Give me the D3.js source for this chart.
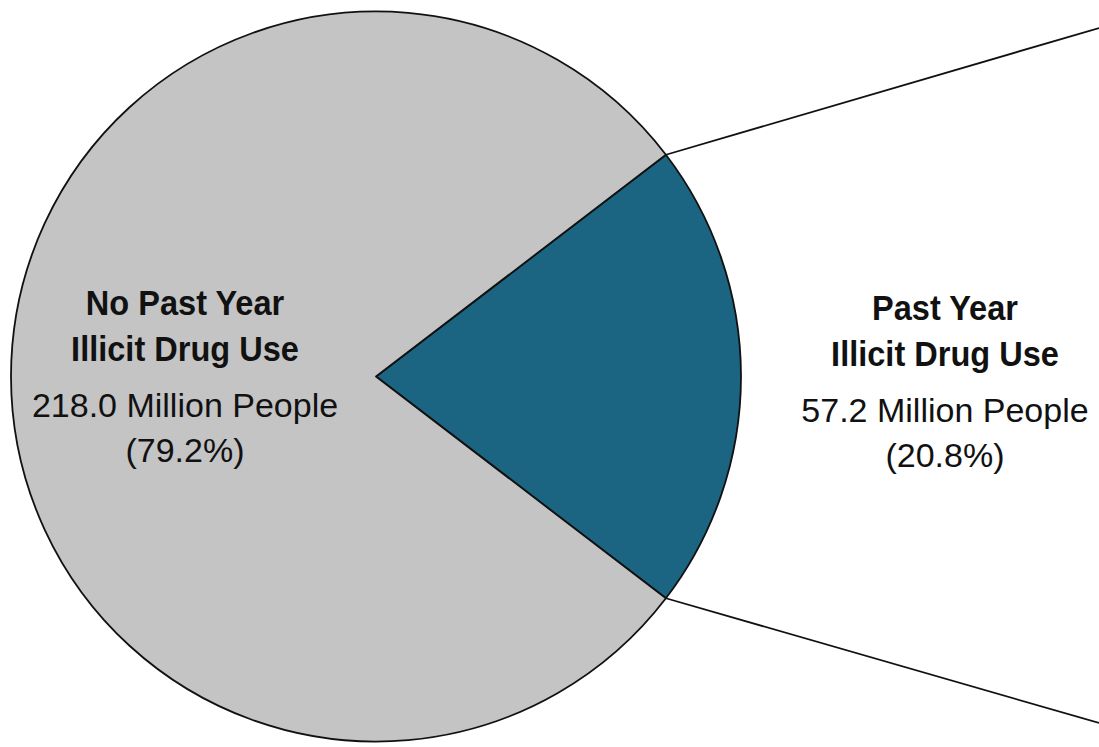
<!DOCTYPE html>
<html>
<head>
<meta charset="utf-8">
<script src="https://cdn.jsdelivr.net/npm/d3@7/dist/d3.min.js"></script>
<style>
  html, body { margin: 0; padding: 0; background: #fff; }
  svg { display: block; }
  .lbl { font-family: "Liberation Sans Narrow", "Arial Narrow", "Liberation Sans", sans-serif; fill: #111; }
</style>
</head>
<body>
<svg id="chart" width="1099" height="747"></svg>
<script>
// Past-year illicit drug use among people aged 12 or older
const categories = ["Past Year Illicit Drug Use", "No Past Year Illicit Drug Use"];
const titleLines = [["Past Year", "Illicit Drug Use"], ["No Past Year", "Illicit Drug Use"]];
const millions = [57.2, 218.0];
const percents = [20.8, 79.2];
const colors = ["#1b6583", "#c4c4c4"];

const W = 1099, H = 747;
const cx = 376, cy = 376.5, R = 365;

const svg = d3.select("#chart");
const g = svg.append("g").attr("transform", `translate(${cx},${cy})`);

const total = d3.sum(millions);
const span = 2 * Math.PI * millions[0] / total;
// The highlighted slice is centred on the right-hand side of the circle
const start = Math.PI / 2 - span / 2;

const pie = d3.pie().sort(null).value(d => d.value)
  .startAngle(start).endAngle(start + 2 * Math.PI);

const data = categories.map((c, i) => ({ name: c, value: millions[i], pct: percents[i], color: colors[i], lines: titleLines[i] }));
const arcs = pie(data);
const arc = d3.arc().innerRadius(0).outerRadius(R);

g.selectAll("path.slice")
  .data(arcs)
  .join("path")
  .attr("class", "slice")
  .attr("d", arc)
  .attr("fill", d => d.data.color)
  .attr("stroke", "#111")
  .attr("stroke-width", 1.8)
  .attr("stroke-linejoin", "round");

// Connector lines from the slice edges out to the right margin
const hi = arcs[0];
const edgePts = [hi.startAngle, hi.endAngle].map(a => [cx + R * Math.sin(a), cy - R * Math.cos(a)]);
const farY = [cy - 348.5, cy + 346.5];
edgePts.forEach((p, i) => {
  svg.append("line")
    .attr("x1", p[0]).attr("y1", p[1])
    .attr("x2", W).attr("y2", farY[i])
    .attr("stroke", "#111").attr("stroke-width", 1.8);
});

// Labels
const fmt = d3.format(".1f");
const labelPos = [[945, 320], [185, 315]];
arcs.forEach((d, i) => {
  const [lx, ly] = labelPos[i];
  const t = svg.append("g").attr("class", "lbl");
  const rows = [
    { text: d.data.lines[0], bold: true, dy: 0 },
    { text: d.data.lines[1], bold: true, dy: 46 },
    { text: `${fmt(d.data.value)} Million People`, bold: false, dy: 102 },
    { text: `(${fmt(d.data.pct)}%)`, bold: false, dy: 147 }
  ];
  rows.forEach(r => {
    // bold heading rows are set slightly condensed
    const sx = r.bold ? 0.93 : 1;
    t.append("text")
      .attr("transform", `translate(${lx},${ly + r.dy}) scale(${sx},1)`)
      .attr("text-anchor", "middle")
      .attr("font-size", r.bold ? 35 : 34)
      .attr("font-weight", r.bold ? 700 : 400)
      .text(r.text);
  });
});
</script>
</body>
</html>
